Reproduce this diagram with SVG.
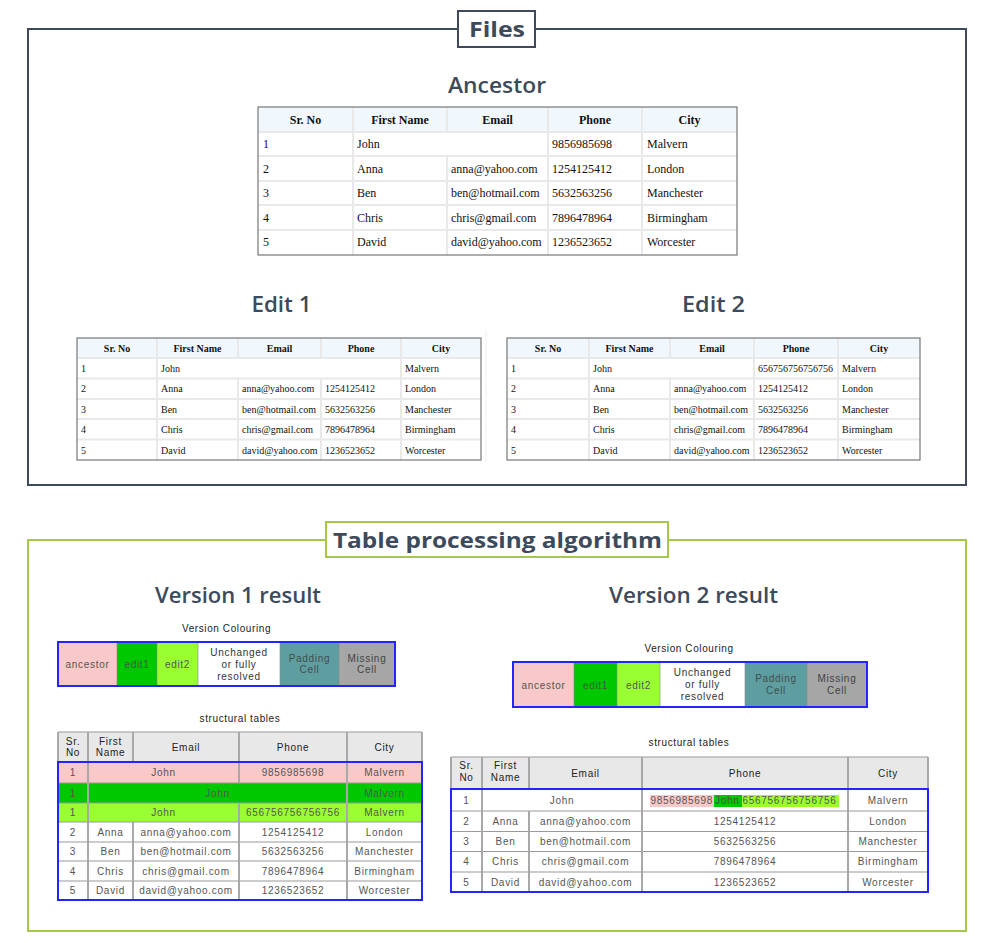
<svg xmlns="http://www.w3.org/2000/svg" width="994" height="943" viewBox="0 0 994 943">
<style>
.title{font-family:"Open Sans","Noto Sans",sans-serif;font-size:22px;fill:#3d4a5c;text-anchor:middle}
.tb{font-weight:700}
.tm{font-weight:600}
.sh{font-family:"Liberation Serif","Times New Roman",serif;font-weight:bold;text-anchor:middle;fill:#111}
.sb{font-family:"Liberation Serif","Times New Roman",serif;fill:#111}
.f12{font-size:12px}
.f10{font-size:10px}
.grid{stroke:#e9e9e9;stroke-width:2}
.outer{fill:none;stroke:#777;stroke-width:1.2}
.hdr{fill:#f1f8fd}
.st{font-family:"Liberation Sans",Arial,sans-serif;font-size:10px;letter-spacing:0.7px;text-anchor:middle;fill:#555}
.sth{fill:#222}
.sl{text-anchor:start}
.sg{stroke:#9a9a9a;stroke-width:1.2}
.sgv{stroke:#a8a8a8;stroke-width:2}
.blue{fill:none;stroke:#2424ff;stroke-width:2}
.cap{font-family:"Liberation Sans",Arial,sans-serif;font-size:10px;letter-spacing:0.6px;text-anchor:middle;fill:#222}
.lg{stroke:#888;stroke-width:0.6}
</style>
<rect width="994" height="943" fill="#fff"/>

<!-- Files frame -->
<g id="files-frame">
  <rect x="28" y="29" width="938" height="456" fill="none" stroke="#3f4b5b" stroke-width="2"/>
  <rect x="458" y="11" width="77" height="36" fill="#fff" stroke="#3f4b5b" stroke-width="2"/>
  <text class="title tb" x="497" y="37" textLength="56" lengthAdjust="spacingAndGlyphs">Files</text>
</g>

<!-- Ancestor -->
<g id="ancestor">
  <text class="title tm" x="497" y="93" textLength="98" lengthAdjust="spacingAndGlyphs">Ancestor</text>
  <rect class="hdr" x="258" y="107" width="479" height="25"/>
  <g class="grid">
    <line x1="258" y1="132" x2="737" y2="132"/>
    <line x1="258" y1="156" x2="737" y2="156"/>
    <line x1="258" y1="181" x2="737" y2="181"/>
    <line x1="258" y1="205" x2="737" y2="205"/>
    <line x1="258" y1="230" x2="737" y2="230"/>
    <line x1="353" y1="107" x2="353" y2="255"/>
    <line x1="447" y1="107" x2="447" y2="132"/>
    <line x1="447" y1="156" x2="447" y2="255"/>
    <line x1="548" y1="107" x2="548" y2="255"/>
    <line x1="642" y1="107" x2="642" y2="255"/>
  </g>
  <rect class="outer" x="258" y="107" width="479" height="148"/>
  <g class="sh f12">
    <text x="305.5" y="124">Sr. No</text>
    <text x="400" y="124">First Name</text>
    <text x="497.5" y="124">Email</text>
    <text x="595" y="124">Phone</text>
    <text x="689.5" y="124">City</text>
  </g>
  <g class="sb f12">
    <text x="263" y="148">1</text><text x="357" y="148">John</text><text x="552" y="148">9856985698</text><text x="647" y="148">Malvern</text>
    <text x="263" y="172.5">2</text><text x="357" y="172.5">Anna</text><text x="451" y="172.5">anna@yahoo.com</text><text x="552" y="172.5">1254125412</text><text x="647" y="172.5">London</text>
    <text x="263" y="197">3</text><text x="357" y="197">Ben</text><text x="451" y="197">ben@hotmail.com</text><text x="552" y="197">5632563256</text><text x="647" y="197">Manchester</text>
    <text x="263" y="221.5">4</text><text x="357" y="221.5">Chris</text><text x="451" y="221.5">chris@gmail.com</text><text x="552" y="221.5">7896478964</text><text x="647" y="221.5">Birmingham</text>
    <text x="263" y="246">5</text><text x="357" y="246">David</text><text x="451" y="246">david@yahoo.com</text><text x="552" y="246">1236523652</text><text x="647" y="246">Worcester</text>
  </g>
</g>

<line x1="486" y1="330" x2="486" y2="462" stroke="#eeeeee" stroke-width="1"/>

<!-- Edit 1 -->
<g id="edit1">
  <text class="title tm" x="281.5" y="312" textLength="60" lengthAdjust="spacingAndGlyphs">Edit 1</text>
  <rect class="hdr" x="77" y="338" width="404" height="20"/>
  <g class="grid">
    <line x1="77" y1="358" x2="481" y2="358"/>
    <line x1="77" y1="378.5" x2="481" y2="378.5"/>
    <line x1="77" y1="399" x2="481" y2="399"/>
    <line x1="77" y1="419" x2="481" y2="419"/>
    <line x1="77" y1="439.5" x2="481" y2="439.5"/>
    <line x1="157" y1="338" x2="157" y2="460"/>
    <line x1="238" y1="338" x2="238" y2="358"/>
    <line x1="238" y1="378.5" x2="238" y2="460"/>
    <line x1="321" y1="338" x2="321" y2="358"/>
    <line x1="321" y1="378.5" x2="321" y2="460"/>
    <line x1="401" y1="338" x2="401" y2="460"/>
  </g>
  <rect class="outer" x="77" y="338" width="404" height="122"/>
  <g class="sh f10">
    <text x="117" y="351.5">Sr. No</text>
    <text x="197.5" y="351.5">First Name</text>
    <text x="279.5" y="351.5">Email</text>
    <text x="361" y="351.5">Phone</text>
    <text x="441" y="351.5">City</text>
  </g>
  <g class="sb f10">
    <text x="81" y="371.5">1</text><text x="161" y="371.5">John</text><text x="405" y="371.5">Malvern</text>
    <text x="81" y="392">2</text><text x="161" y="392">Anna</text><text x="242" y="392">anna@yahoo.com</text><text x="325" y="392">1254125412</text><text x="405" y="392">London</text>
    <text x="81" y="412.5">3</text><text x="161" y="412.5">Ben</text><text x="242" y="412.5">ben@hotmail.com</text><text x="325" y="412.5">5632563256</text><text x="405" y="412.5">Manchester</text>
    <text x="81" y="433">4</text><text x="161" y="433">Chris</text><text x="242" y="433">chris@gmail.com</text><text x="325" y="433">7896478964</text><text x="405" y="433">Birmingham</text>
    <text x="81" y="453.5">5</text><text x="161" y="453.5">David</text><text x="242" y="453.5">david@yahoo.com</text><text x="325" y="453.5">1236523652</text><text x="405" y="453.5">Worcester</text>
  </g>
</g>

<!-- Edit 2 -->
<g id="edit2">
  <text class="title tm" x="713.5" y="312" textLength="63" lengthAdjust="spacingAndGlyphs">Edit 2</text>
  <rect class="hdr" x="507" y="338" width="413" height="20"/>
  <g class="grid">
    <line x1="507" y1="358" x2="920" y2="358"/>
    <line x1="507" y1="378.5" x2="920" y2="378.5"/>
    <line x1="507" y1="399" x2="920" y2="399"/>
    <line x1="507" y1="419" x2="920" y2="419"/>
    <line x1="507" y1="439.5" x2="920" y2="439.5"/>
    <line x1="589" y1="338" x2="589" y2="460"/>
    <line x1="670" y1="338" x2="670" y2="358"/>
    <line x1="670" y1="378.5" x2="670" y2="460"/>
    <line x1="754" y1="338" x2="754" y2="460"/>
    <line x1="838" y1="338" x2="838" y2="460"/>
  </g>
  <rect class="outer" x="507" y="338" width="413" height="122"/>
  <g class="sh f10">
    <text x="548" y="351.5">Sr. No</text>
    <text x="629.5" y="351.5">First Name</text>
    <text x="712" y="351.5">Email</text>
    <text x="796" y="351.5">Phone</text>
    <text x="879" y="351.5">City</text>
  </g>
  <g class="sb f10">
    <text x="511" y="371.5">1</text><text x="593" y="371.5">John</text><text x="758" y="371.5">656756756756756</text><text x="842" y="371.5">Malvern</text>
    <text x="511" y="392">2</text><text x="593" y="392">Anna</text><text x="674" y="392">anna@yahoo.com</text><text x="758" y="392">1254125412</text><text x="842" y="392">London</text>
    <text x="511" y="412.5">3</text><text x="593" y="412.5">Ben</text><text x="674" y="412.5">ben@hotmail.com</text><text x="758" y="412.5">5632563256</text><text x="842" y="412.5">Manchester</text>
    <text x="511" y="433">4</text><text x="593" y="433">Chris</text><text x="674" y="433">chris@gmail.com</text><text x="758" y="433">7896478964</text><text x="842" y="433">Birmingham</text>
    <text x="511" y="453.5">5</text><text x="593" y="453.5">David</text><text x="674" y="453.5">david@yahoo.com</text><text x="758" y="453.5">1236523652</text><text x="842" y="453.5">Worcester</text>
  </g>
</g>

<!-- Algorithm frame -->
<g id="algorithm-frame">
  <rect x="28" y="540" width="938" height="391" fill="none" stroke="#a5c84a" stroke-width="2"/>
  <rect x="326" y="522" width="342" height="35" fill="#fff" stroke="#a5c84a" stroke-width="2"/>
  <text class="title tb" x="497.5" y="548" textLength="329" lengthAdjust="spacingAndGlyphs">Table processing algorithm</text>
  <text class="title tm" x="238" y="603" textLength="166" lengthAdjust="spacingAndGlyphs">Version 1 result</text>
  <text class="title tm" x="693.5" y="603" textLength="169" lengthAdjust="spacingAndGlyphs">Version 2 result</text>
</g>

<!-- Version 1 legend -->
<g id="v1-legend">
  <text class="cap" x="226.5" y="632">Version Colouring</text>
  <rect x="58" y="642" width="59" height="44" fill="#f9c9c9"/>
  <rect x="117" y="642" width="40" height="44" fill="#00c800"/>
  <rect x="157" y="642" width="41" height="44" fill="#99ff33"/>
  <rect x="198" y="642" width="82" height="44" fill="#ffffff"/>
  <rect x="280" y="642" width="59" height="44" fill="#5f9ea0"/>
  <rect x="339" y="642" width="56" height="44" fill="#a6a6a6"/>
  <g class="lg">
    <line x1="117" y1="642" x2="117" y2="686"/><line x1="157" y1="642" x2="157" y2="686"/>
    <line x1="198" y1="642" x2="198" y2="686"/><line x1="280" y1="642" x2="280" y2="686"/>
    <line x1="339" y1="642" x2="339" y2="686"/>
  </g>
  <rect class="blue" x="58" y="642" width="337" height="44"/>
  <g class="st">
    <text x="87.5" y="667.5">ancestor</text>
    <text x="137" y="667.5" fill="#3d5a3d">edit1</text>
    <text x="177.5" y="667.5">edit2</text>
    <text x="239" y="655.5" fill="#333">Unchanged</text>
    <text x="239" y="667.5" fill="#333">or fully</text>
    <text x="239" y="679.5" fill="#333">resolved</text>
    <text x="309.5" y="661.5" fill="#3f4f50">Padding</text>
    <text x="309.5" y="672.5" fill="#3f4f50">Cell</text>
    <text x="367" y="661.5" fill="#444">Missing</text>
    <text x="367" y="672.5" fill="#444">Cell</text>
  </g>
</g>

<!-- Version 1 structural table -->
<g id="v1-table">
  <text class="cap" x="240" y="722">structural tables</text>
  <rect x="58" y="732" width="364" height="30" fill="#e8e8e8"/>
  <rect x="58" y="762" width="364" height="21" fill="#f9c9c9"/>
  <rect x="58" y="783" width="364" height="20" fill="#00c800"/>
  <rect x="58" y="803" width="364" height="19" fill="#99ff33"/>
  <g class="sg">
    <line x1="58" y1="732" x2="422" y2="732"/>
    <line x1="58" y1="783" x2="422" y2="783"/>
    <line x1="58" y1="803" x2="422" y2="803"/>
    <line x1="58" y1="822" x2="422" y2="822"/>
    <line x1="58" y1="842" x2="422" y2="842"/>
    <line x1="58" y1="861" x2="422" y2="861"/>
    <line x1="58" y1="881" x2="422" y2="881"/>
  </g>
  <g class="sgv">
    <line x1="58" y1="732" x2="58" y2="762"/>
    <line x1="422" y1="732" x2="422" y2="762"/>
    <line x1="88" y1="732" x2="88" y2="900"/>
    <line x1="133" y1="732" x2="133" y2="762"/>
    <line x1="133" y1="822" x2="133" y2="900"/>
    <line x1="239" y1="732" x2="239" y2="783"/>
    <line x1="239" y1="803" x2="239" y2="900"/>
    <line x1="347" y1="732" x2="347" y2="900"/>
  </g>
  <rect class="blue" x="58" y="762" width="364" height="138"/>
  <g class="st sth">
    <text x="73" y="745">Sr.</text><text x="73" y="756">No</text>
    <text x="110.5" y="745">First</text><text x="110.5" y="756">Name</text>
    <text x="186" y="750.5">Email</text>
    <text x="293" y="750.5">Phone</text>
    <text x="384.5" y="750.5">City</text>
  </g>
  <g class="st">
    <text x="73" y="776">1</text><text x="163.5" y="776">John</text><text x="293" y="776">9856985698</text><text x="384.5" y="776">Malvern</text>
    <text x="73" y="796.5">1</text><text x="217.5" y="796.5">John</text><text x="384.5" y="796.5">Malvern</text>
    <text x="73" y="816">1</text><text x="163.5" y="816">John</text><text x="293" y="816">656756756756756</text><text x="384.5" y="816">Malvern</text>
    <text x="73" y="835.5">2</text><text x="110.5" y="835.5">Anna</text><text x="186" y="835.5">anna@yahoo.com</text><text x="293" y="835.5">1254125412</text><text x="384.5" y="835.5">London</text>
    <text x="73" y="855">3</text><text x="110.5" y="855">Ben</text><text x="186" y="855">ben@hotmail.com</text><text x="293" y="855">5632563256</text><text x="384.5" y="855">Manchester</text>
    <text x="73" y="874.5">4</text><text x="110.5" y="874.5">Chris</text><text x="186" y="874.5">chris@gmail.com</text><text x="293" y="874.5">7896478964</text><text x="384.5" y="874.5">Birmingham</text>
    <text x="73" y="894">5</text><text x="110.5" y="894">David</text><text x="186" y="894">david@yahoo.com</text><text x="293" y="894">1236523652</text><text x="384.5" y="894">Worcester</text>
  </g>
</g>

<!-- Version 2 legend -->
<g id="v2-legend">
  <text class="cap" x="689" y="652">Version Colouring</text>
  <rect x="513" y="662" width="61" height="45" fill="#f9c9c9"/>
  <rect x="574" y="662" width="43" height="45" fill="#00c800"/>
  <rect x="617" y="662" width="43" height="45" fill="#99ff33"/>
  <rect x="660" y="662" width="85" height="45" fill="#ffffff"/>
  <rect x="745" y="662" width="62" height="45" fill="#5f9ea0"/>
  <rect x="807" y="662" width="60" height="45" fill="#a6a6a6"/>
  <g class="lg">
    <line x1="574" y1="662" x2="574" y2="707"/><line x1="617" y1="662" x2="617" y2="707"/>
    <line x1="660" y1="662" x2="660" y2="707"/><line x1="745" y1="662" x2="745" y2="707"/>
    <line x1="807" y1="662" x2="807" y2="707"/>
  </g>
  <rect class="blue" x="513" y="662" width="354" height="45"/>
  <g class="st">
    <text x="543.5" y="688.5">ancestor</text>
    <text x="595.5" y="688.5" fill="#3d5a3d">edit1</text>
    <text x="638.5" y="688.5">edit2</text>
    <text x="702.5" y="676" fill="#333">Unchanged</text>
    <text x="702.5" y="688" fill="#333">or fully</text>
    <text x="702.5" y="700" fill="#333">resolved</text>
    <text x="776" y="682" fill="#3f4f50">Padding</text>
    <text x="776" y="694" fill="#3f4f50">Cell</text>
    <text x="837" y="682" fill="#444">Missing</text>
    <text x="837" y="694" fill="#444">Cell</text>
  </g>
</g>

<!-- Version 2 structural table -->
<g id="v2-table">
  <text class="cap" x="689" y="746">structural tables</text>
  <rect x="451" y="757" width="477" height="32" fill="#e8e8e8"/>
  <g class="sg">
    <line x1="451" y1="757" x2="928" y2="757"/>
    <line x1="451" y1="811" x2="928" y2="811"/>
    <line x1="451" y1="831.5" x2="928" y2="831.5"/>
    <line x1="451" y1="851.5" x2="928" y2="851.5"/>
    <line x1="451" y1="872" x2="928" y2="872"/>
  </g>
  <g class="sgv">
    <line x1="451" y1="757" x2="451" y2="789"/>
    <line x1="928" y1="757" x2="928" y2="789"/>
    <line x1="482" y1="757" x2="482" y2="892"/>
    <line x1="529" y1="757" x2="529" y2="789"/>
    <line x1="529" y1="811" x2="529" y2="892"/>
    <line x1="642" y1="757" x2="642" y2="892"/>
    <line x1="848" y1="757" x2="848" y2="892"/>
  </g>
  <rect class="blue" x="451" y="789" width="477" height="103"/>
  <g class="st sth">
    <text x="466.5" y="769">Sr.</text><text x="466.5" y="781">No</text>
    <text x="505.5" y="769">First</text><text x="505.5" y="781">Name</text>
    <text x="585.5" y="776.5">Email</text>
    <text x="745" y="776.5">Phone</text>
    <text x="888" y="776.5">City</text>
  </g>
  <rect x="650" y="795" width="64" height="12" fill="#f9c9c9"/>
  <rect x="714" y="795" width="28" height="12" fill="#00c800"/>
  <rect x="742" y="795" width="97" height="12" fill="#99ff33"/>
  <g class="st">
    <text x="466.5" y="804">1</text><text x="562" y="804">John</text>
    <text class="sl" x="650.5" y="804">9856985698</text>
    <text class="sl" x="715" y="804" fill="#3d5a3d">John</text>
    <text class="sl" x="742.5" y="804">656756756756756</text>
    <text x="888" y="804">Malvern</text>
    <text x="466.5" y="824.5">2</text><text x="505.5" y="824.5">Anna</text><text x="585.5" y="824.5">anna@yahoo.com</text><text x="745" y="824.5">1254125412</text><text x="888" y="824.5">London</text>
    <text x="466.5" y="845">3</text><text x="505.5" y="845">Ben</text><text x="585.5" y="845">ben@hotmail.com</text><text x="745" y="845">5632563256</text><text x="888" y="845">Manchester</text>
    <text x="466.5" y="865">4</text><text x="505.5" y="865">Chris</text><text x="585.5" y="865">chris@gmail.com</text><text x="745" y="865">7896478964</text><text x="888" y="865">Birmingham</text>
    <text x="466.5" y="885.5">5</text><text x="505.5" y="885.5">David</text><text x="585.5" y="885.5">david@yahoo.com</text><text x="745" y="885.5">1236523652</text><text x="888" y="885.5">Worcester</text>
  </g>
</g>
</svg>
